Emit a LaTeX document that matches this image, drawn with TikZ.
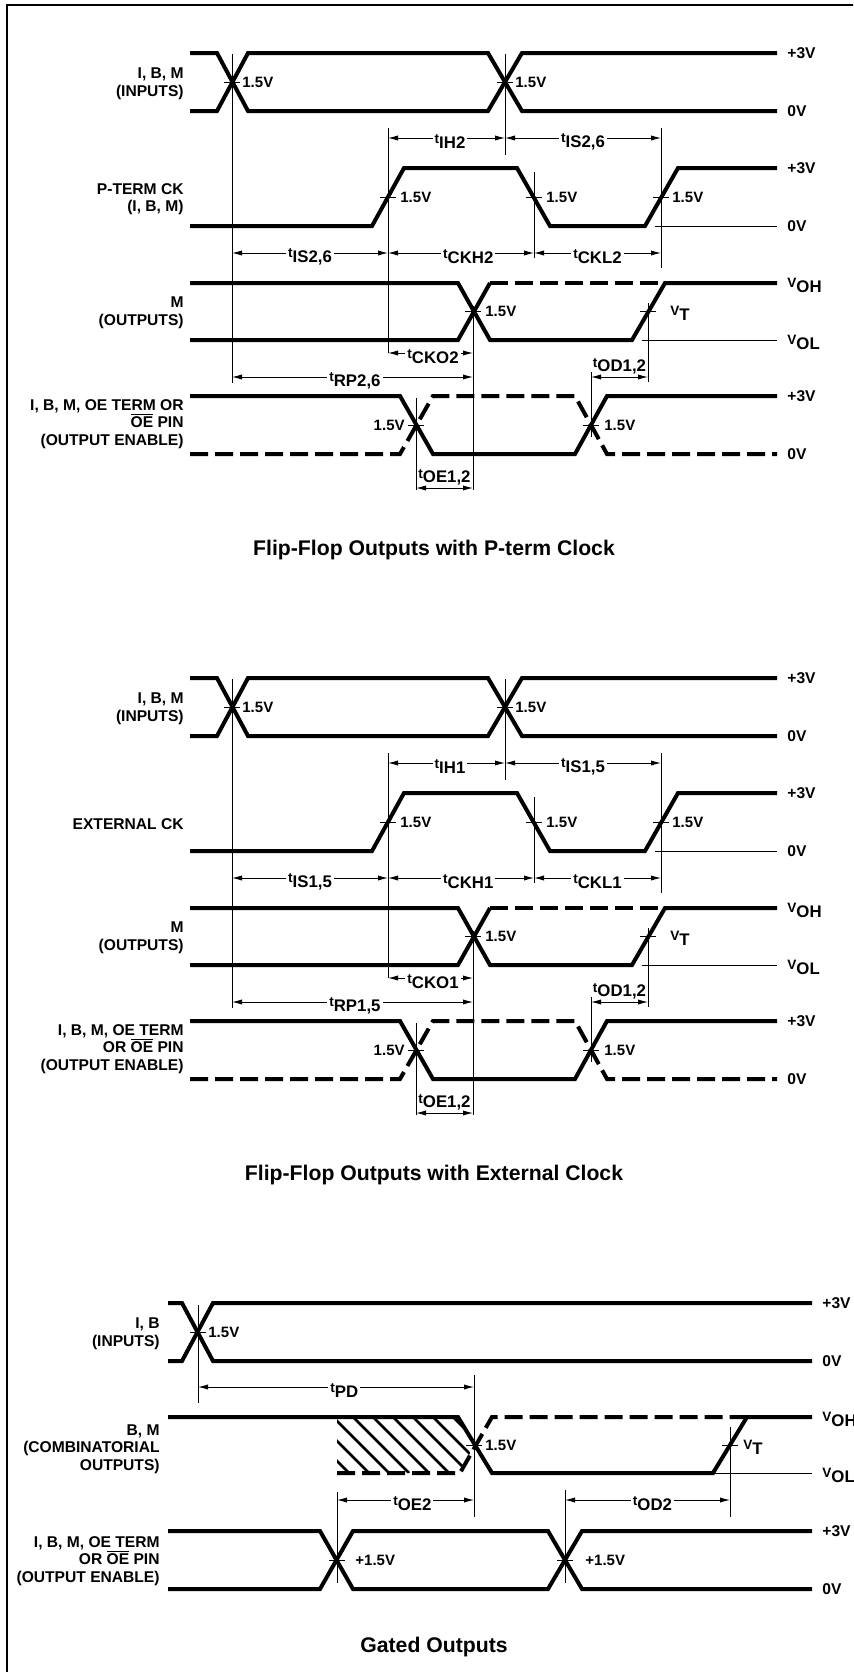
\documentclass[tikz,border=0pt]{standalone}
\usepackage{fontspec}
\setmainfont{Liberation Sans}
\usetikzlibrary{arrows.meta}
\newcommand\sig[2]{{\fontsize{6.8}{7}\selectfont #1}\raisebox{-.6ex}{\fontsize{8.4}{9}\selectfont #2}}
\newcommand\ovl[1]{$\overline{\mbox{#1}}$}
\tikzset{
  wave/.style={line width=2pt},
  dashline/.style={dash pattern=on 9pt off 3.5pt},
  ref/.style={line width=0.45pt},
  dim/.style={line width=0.45pt, {Latex[length=5pt,width=2.6pt]}-{Latex[length=5pt,width=2.6pt]}},
  lab/.style={font=\fontsize{7.8}{8.8}\selectfont\bfseries, inner sep=1pt},
  rowlab/.style={lab, anchor=east, align=right},
  volt/.style={lab, anchor=west, font=\fontsize{7.5}{8.8}\selectfont\bfseries},
  lvl/.style={lab, anchor=west},
  tlab/.style={lab, fill=white, yshift=-2pt},
  ttl/.style={font=\fontsize{10.6}{12}\selectfont\bfseries},
  hatch/.style={line width=1.3pt}
}
\begin{document}
\begin{tikzpicture}[x=0.5pt,y=-0.5pt]
\useasboundingbox (0,0) rectangle (853,1672);
\clip (0,0) rectangle (853,1672);
% frame
\draw[line width=1.2pt] (7,5) rectangle (900,1700);

% flip-flop sections
\foreach \dy/\n/\h/\s/\ck/\oen/\ttl in {
  0/a/2/{2,6}/{P-TERM CK\\(I, B, M)}/{I, B, M, OE TERM OR\\\ovl{OE} PIN\\(OUTPUT ENABLE)}/{Flip-Flop Outputs with P-term Clock},
  625/b/1/{1,5}/{EXTERNAL CK}/{I, B, M, OE TERM\\OR \ovl{OE} PIN\\(OUTPUT ENABLE)}/{Flip-Flop Outputs with External Clock}}{
\begin{scope}[shift={(0,\dy)}]
  % waveforms
  \draw[wave] (190,53) -- (217,53) -- (248,111) -- (488,111) -- (522,53) -- (777,53);
  \draw[wave] (190,111) -- (217,111) -- (248,53) -- (488,53) -- (522,111) -- (777,111);
  \draw[wave] (190,226) -- (372,226) -- (404,168) -- (517,168) -- (550,226) -- (645,226) -- (678,168) -- (777,168);
  \draw[wave] (190,283) -- (458,283) -- (490,340) -- (632,340) -- (665,283) -- (777,283);
  \draw[wave] (190,340) -- (458,340) -- (490,283);
  \draw[wave,dashline] (490,283) -- (665,283);
  \draw[wave] (190,396) -- (400,396) -- (433,454) -- (575,454) -- (607,396) -- (777,396);
  \draw[wave,dashline] (190,454) -- (400,454) -- (433,396) -- (575,396) -- (607,454) -- (777,454);
  % reference lines
  \draw[ref] (232,54) -- (232,383);
  \draw[ref] (505,54) -- (505,155);
  \draw[ref] (388,128) -- (388,353);
  \draw[ref] (534,172) -- (534,258);
  \draw[ref] (661,128) -- (661,268);
  \draw[ref] (473,306) -- (473,490);
  \draw[ref] (648,303) -- (648,382);
  \draw[ref] (416,398) -- (416,490);
  \draw[ref] (591,372) -- (591,437);
  \draw[ref] (655,226) -- (777,226);
  \draw[ref] (642,340) -- (777,340);
  \foreach \x/\y in {232/82, 505/82, 388/197, 534/197, 661/197, 473/311, 648/311, 416/425, 591/425}
    \draw[ref] (\x-8,\y) -- (\x+8,\y);
  % timing
  \draw[dim] (388,138) -- node[tlab,pos=0.53] (ih-\n) {\sig{t}{IH\h}} (505,138);
  \draw[dim] (505,138) -- node[tlab] (is-\n) {\sig{t}{IS\s}} (661,138);
  \draw[dim] (232,253) -- node[tlab] (isb-\n) {\sig{t}{IS\s}} (388,253);
  \draw[dim] (388,253) -- node[tlab,pos=0.55] (ckh-\n) {\sig{t}{CKH\h}} (534,253);
  \draw[dim] (534,253) -- node[tlab] (ckl-\n) {\sig{t}{CKL\h}} (661,253);
  \draw[dim] (388,353) -- node[tlab,pos=0.53] (cko-\n) {\sig{t}{CKO\h}} (473,353);
  \draw[dim] (232,377) -- node[tlab,pos=0.51] (rp-\n) {\sig{t}{RP\s}} (473,377);
  \draw[dim] (591,377) -- node[lab,above] (od-\n) {\sig{t}{OD1,2}} (648,377);
  \draw[dim] (416,488) -- node[lab,above] (oe-\n) {\sig{t}{OE1,2}} (473,488);
  % labels
  \node[rowlab] (in-\n) at (186,84) {I, B, M\\(INPUTS)};
  \node[rowlab] (ck-\n) at (186,199) {\ck};
  \node[rowlab] (out-\n) at (186,313) {M\\(OUTPUTS)};
  \node[rowlab] (en-\n) at (186,424) {\oen};
  \node[volt] (v1-\n) at (240,82) {1.5V};
  \node[volt] (v2-\n) at (513,82) {1.5V};
  \node[volt] (v3-\n) at (398,197) {1.5V};
  \node[volt] (v4-\n) at (544,197) {1.5V};
  \node[volt] (v5-\n) at (670,197) {1.5V};
  \node[volt] (v6-\n) at (483,311) {1.5V};
  \node[lvl] (vt-\n) at (668,313) {\sig{V}{T}};
  \node[volt,anchor=east] (v7-\n) at (407,425) {1.5V};
  \node[volt] (v8-\n) at (602,425) {1.5V};
  \node[lvl] (h1-\n) at (785,53) {+3V};
  \node[lvl] (l1-\n) at (785,111) {0V};
  \node[lvl] (h2-\n) at (785,168) {+3V};
  \node[lvl] (l2-\n) at (785,226) {0V};
  \node[lvl] (h3-\n) at (785,285) {\sig{V}{OH}};
  \node[lvl] (l3-\n) at (785,342) {\sig{V}{OL}};
  \node[lvl] (h4-\n) at (785,396) {+3V};
  \node[lvl] (l4-\n) at (785,454) {0V};
  \node[ttl] (title-\n) at (434,550) {\ttl};
\end{scope}
}

% gated outputs
\draw[wave] (168,1303) -- (182,1303) -- (213,1361) -- (812,1361);
\draw[wave] (168,1361) -- (182,1361) -- (213,1303) -- (812,1303);
\begin{scope}
  \clip (337,1417) -- (458,1417) -- (474,1445) -- (460,1473) -- (337,1473) -- cycle;
  \foreach \x in {273,293,...,473}
    \draw[hatch] (\x,1417) -- ++(56,56);
\end{scope}
\draw[wave] (168,1417) -- (458,1417) -- (492,1473) -- (713,1473) -- (747,1417) -- (812,1417);
\draw[wave,dashline] (337,1473) -- (460,1473) -- (492,1417) -- (747,1417);
\draw[wave] (168,1531) -- (320,1531) -- (353,1589) -- (548,1589) -- (582,1531) -- (812,1531);
\draw[wave] (168,1589) -- (320,1589) -- (353,1531) -- (548,1531) -- (582,1589) -- (812,1589);
\draw[ref] (198,1305) -- (198,1403);
\draw[ref] (474,1375) -- (474,1517);
\draw[ref] (730,1427) -- (730,1517);
\draw[ref] (337,1492) -- (337,1583);
\draw[ref] (565,1490) -- (565,1583);
\draw[ref] (715,1473) -- (812,1473);
\foreach \x/\y in {198/1332, 474/1445, 730/1445, 337/1560, 565/1560}
  \draw[ref] (\x-8,\y) -- (\x+8,\y);
\draw[dim] (198,1387) -- node[tlab,pos=0.53] (pd) {\sig{t}{PD}} (474,1387);
\draw[dim] (337,1500) -- node[tlab,pos=0.55] (oe2) {\sig{t}{OE2}} (474,1500);
\draw[dim] (565,1500) -- node[tlab,pos=0.53] (od2) {\sig{t}{OD2}} (730,1500);
\node[rowlab] (in-c) at (162,1334) {I, B\\(INPUTS)};
\node[rowlab] (out-c) at (162,1449) {B, M\\(COMBINATORIAL\\OUTPUTS)};
\node[rowlab] (en-c) at (162,1561) {I, B, M, OE TERM\\OR \ovl{OE} PIN\\(OUTPUT ENABLE)};
\node[volt] (v1-c) at (206,1332) {1.5V};
\node[volt] (v2-c) at (483,1445) {1.5V};
\node[lvl] (vt-c) at (741,1447) {\sig{V}{T}};
\node[volt] (v3-c) at (353,1560) {+1.5V};
\node[volt] (v4-c) at (583,1560) {+1.5V};
\node[lvl] (h1-c) at (820,1303) {+3V};
\node[lvl] (l1-c) at (820,1361) {0V};
\node[lvl] (h2-c) at (820,1419) {\sig{V}{OH}};
\node[lvl] (l2-c) at (820,1475) {\sig{V}{OL}};
\node[lvl] (h3-c) at (820,1531) {+3V};
\node[lvl] (l3-c) at (820,1589) {0V};
\node[ttl] (title-c) at (434,1647) {Gated Outputs};
\end{tikzpicture}
\end{document}
